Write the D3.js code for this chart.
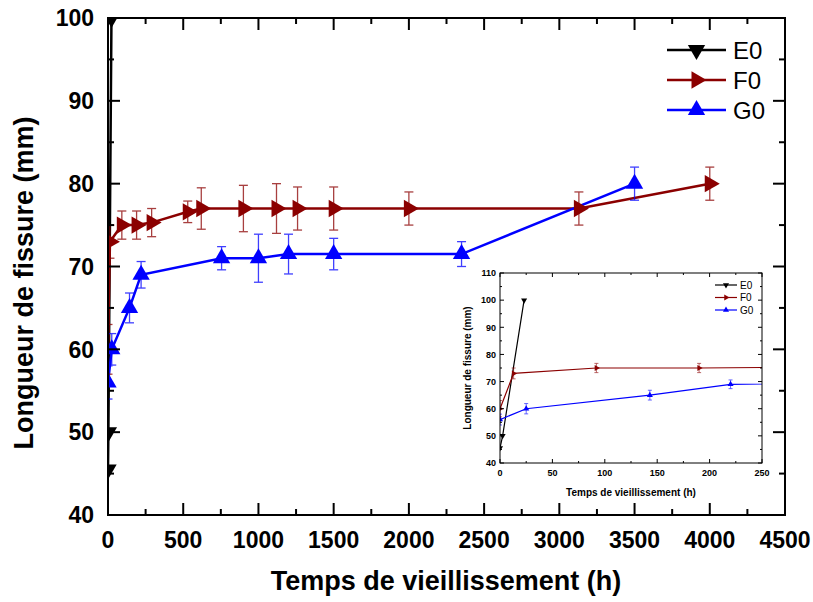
<!DOCTYPE html>
<html><head><meta charset="utf-8">
<script src="https://cdn.jsdelivr.net/npm/d3@7"></script>
<style>body{margin:0;background:#fff} text{font-family:"Liberation Sans",Arial,sans-serif}</style>
</head><body><svg id="c" width="813" height="602"></svg>
<script>
// ---- data ----
const seriesNames = ["E0", "F0", "G0"];
const e0Hours  = [0, 2.5, 23];
const e0Values = [45.5, 50, 100];
const e0Err    = [0, 0, 0];
const f0Hours  = [0, 13, 92, 190, 290, 530, 620, 900, 1120, 1260, 1500, 2000, 3130, 4000];
const f0Values = [60, 73, 75, 75, 75.3, 76.6, 77, 77, 77, 77, 77, 77, 77, 80];
const f0Err    = [3, 2, 1.7, 1.7, 1.7, 1.3, 2.5, 2.8, 3, 2.6, 2.6, 2, 2, 2];
const g0Hours  = [0, 25, 143, 220, 755, 1000, 1200, 1500, 2350, 3500];
const g0Values = [56, 60, 65, 69, 71, 71, 71.5, 71.5, 71.5, 80];
const g0Err    = [2, 1.9, 1.8, 1.6, 1.4, 2.9, 2.4, 1.9, 1.5, 2];
const xTickLabels = [0, 500, 1000, 1500, 2000, 2500, 3000, 3500, 4000, 4500];
const yTickLabels = [40, 50, 60, 70, 80, 90, 100];
const insetXTickLabels = [0, 50, 100, 150, 200, 250];
const insetYTickLabels = [40, 50, 60, 70, 80, 90, 100, 110];
const xTitle = "Temps de vieillissement (h)";
const yTitle = "Longueur de fissure (mm)";

const colors = {E0: "#000000", F0: "#8B0000", G0: "#0000FF"};
const rotations = {E0: 180, F0: 90, G0: 0};
const series = [
  {name: "E0", h: e0Hours, v: e0Values, e: e0Err},
  {name: "F0", h: f0Hours, v: f0Values, e: f0Err},
  {name: "G0", h: g0Hours, v: g0Values, e: g0Err}
].map(s => ({name: s.name, pts: s.h.map((h, i) => ({x: h, y: s.v[i], err: s.e[i]}))}));

const svg = d3.select("#c");
svg.append("rect").attr("width", 813).attr("height", 602).attr("fill", "#fff");

function drawPanel(g, cfg) {
  const x = d3.scaleLinear().domain(cfg.xd).range([cfg.l, cfg.r]);
  const y = d3.scaleLinear().domain(cfg.yd).range([cfg.b, cfg.t]);
  if (cfg.bg) g.append("rect").attr("x", cfg.l).attr("y", cfg.t).attr("width", cfg.r - cfg.l).attr("height", cfg.b - cfg.t).attr("fill", "#fff");
  const clipId = "clip" + cfg.id;
  g.append("clipPath").attr("id", clipId).append("rect")
    .attr("x", cfg.l).attr("y", cfg.t).attr("width", cfg.r - cfg.l).attr("height", cfg.b - cfg.t);
  const data = g.append("g").attr("clip-path", `url(#${clipId})`);
  const line = d3.line().x(d => x(d.x)).y(d => y(d.y));
  series.forEach(s => {
    data.append("path").datum(s.pts).attr("d", line).attr("fill", "none")
      .attr("stroke", colors[s.name]).attr("stroke-width", cfg.lw);
  });
  series.forEach(s => {
    const pts = s.pts.filter(d => d.x <= cfg.xd[1]);
    const eb = data.append("g").attr("stroke", colors[s.name]).attr("stroke-width", cfg.ew).attr("opacity", 0.75);
    pts.filter(d => d.err > 0).forEach(d => {
      const cx = x(d.x), y1 = y(d.y + d.err), y2 = y(d.y - d.err);
      eb.append("line").attr("x1", cx).attr("x2", cx).attr("y1", y1).attr("y2", y2);
      eb.append("line").attr("x1", cx - cfg.cap).attr("x2", cx + cfg.cap).attr("y1", y1).attr("y2", y1);
      eb.append("line").attr("x1", cx - cfg.cap).attr("x2", cx + cfg.cap).attr("y1", y2).attr("y2", y2);
    });
    const sym = d3.symbol().type(d3.symbolTriangle).size(cfg.ms);
    data.append("g").selectAll("path").data(pts).join("path")
      .attr("d", sym).attr("fill", colors[s.name])
      .attr("transform", d => `translate(${x(d.x)},${y(d.y)}) rotate(${rotations[s.name]})`);
  });
  // frame
  g.append("rect").attr("x", cfg.l).attr("y", cfg.t).attr("width", cfg.r - cfg.l).attr("height", cfg.b - cfg.t)
    .attr("fill", "none").attr("stroke", "#000").attr("stroke-width", cfg.fw);
  // ticks (inward) on all sides
  const tk = g.append("g").attr("stroke", "#000").attr("stroke-width", cfg.fw);
  const xMinor = d3.range(cfg.xd[0], cfg.xd[1] + 1e-9, cfg.xStep / 2);
  xMinor.forEach((v, i) => {
    const len = (i % 2 === 0) ? cfg.tl : cfg.tl / 2, px = x(v);
    tk.append("line").attr("x1", px).attr("x2", px).attr("y1", cfg.b).attr("y2", cfg.b - len);
    tk.append("line").attr("x1", px).attr("x2", px).attr("y1", cfg.t).attr("y2", cfg.t + len);
  });
  const yMinor = d3.range(cfg.yd[0], cfg.yd[1] + 1e-9, cfg.yStep / 2);
  yMinor.forEach((v, i) => {
    const len = (i % 2 === 0) ? cfg.tl : cfg.tl / 2, py = y(v);
    tk.append("line").attr("x1", cfg.l).attr("x2", cfg.l + len).attr("y1", py).attr("y2", py);
    tk.append("line").attr("x1", cfg.r).attr("x2", cfg.r - len).attr("y1", py).attr("y2", py);
  });
  // tick labels
  g.append("g").selectAll("text").data(cfg.xLabels).join("text")
    .attr("x", d => x(d)).attr("y", cfg.b + cfg.xlOff).attr("text-anchor", "middle")
    .attr("font-size", cfg.fs).attr("font-weight", "bold").text(d => d);
  g.append("g").selectAll("text").data(cfg.yLabels).join("text")
    .attr("x", cfg.l - cfg.ylOff).attr("y", d => y(d)).attr("dy", "0.36em").attr("text-anchor", "end")
    .attr("font-size", cfg.fs).attr("font-weight", "bold").text(d => d);
  g.append("text").attr("x", cfg.xtX).attr("y", cfg.xtY).attr("text-anchor", "middle")
    .attr("font-size", cfg.tfs).attr("font-weight", "bold").text(xTitle);
  g.append("text").attr("transform", `translate(${cfg.ytX},${cfg.ytY}) rotate(-90)`).attr("text-anchor", "middle")
    .attr("font-size", cfg.tfs).attr("font-weight", "bold").text(yTitle);
  // legend
  const lg = g.append("g");
  seriesNames.forEach((n, i) => {
    const ly = cfg.lgY + i * cfg.lgDy;
    lg.append("line").attr("x1", cfg.lgX1).attr("x2", cfg.lgX2).attr("y1", ly).attr("y2", ly)
      .attr("stroke", colors[n]).attr("stroke-width", cfg.lw);
    lg.append("path").attr("d", d3.symbol().type(d3.symbolTriangle).size(cfg.ms)())
      .attr("fill", colors[n]).attr("transform", `translate(${(cfg.lgX1 + cfg.lgX2) / 2},${ly}) rotate(${rotations[n]})`);
    lg.append("text").attr("x", cfg.lgX2 + cfg.lgGap).attr("y", ly).attr("dy", "0.36em")
      .attr("font-size", cfg.lfs).text(n);
  });
}

drawPanel(svg.append("g"), {
  id: "main", xd: [0, 4500], yd: [40, 100], l: 108, r: 785, t: 18, b: 515, bg: false,
  lw: 2.5, ew: 1.3, cap: 4.5, ms: 130, fw: 2, tl: 12, xStep: 500, yStep: 10,
  xLabels: xTickLabels, yLabels: yTickLabels, fs: 23, xlOff: 33, ylOff: 14,
  tfs: 27, xtX: 446, xtY: 590, ytX: 33, ytY: 283,
  lgX1: 667, lgX2: 726, lgY: 50, lgDy: 30, lgGap: 7, lfs: 24
});
drawPanel(svg.append("g"), {
  id: "inset", xd: [0, 250], yd: [40, 110], l: 500, r: 762, t: 273, b: 463, bg: true,
  lw: 1.2, ew: 0.8, cap: 2, ms: 16, fw: 1, tl: 4, xStep: 50, yStep: 10,
  xLabels: insetXTickLabels, yLabels: insetYTickLabels, fs: 9, xlOff: 13, ylOff: 4,
  tfs: 10, xtX: 631, xtY: 496, ytX: 471, ytY: 368,
  lgX1: 715, lgX2: 737, lgY: 285, lgDy: 12.5, lgGap: 3, lfs: 10
});
</script></body></html>
